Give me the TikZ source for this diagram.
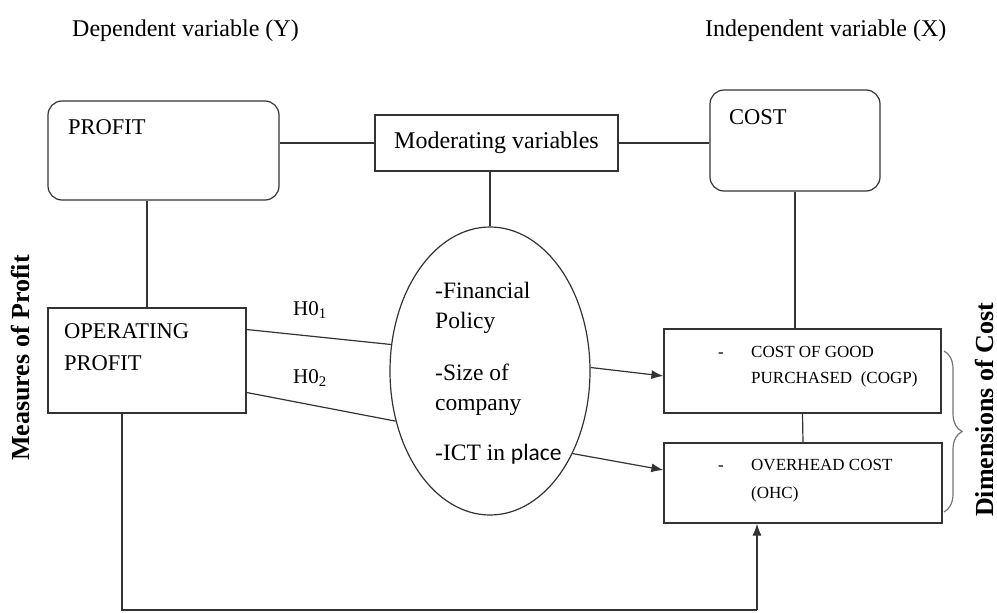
\documentclass[tikz,border=0pt]{standalone}
\usepackage{fontspec}
\setmainfont{Liberation Serif}
\setsansfont{Carlito}
\usetikzlibrary{shapes.geometric,arrows.meta,decorations.pathreplacing}

\tikzset{
  rbox/.style={draw=black!80, line width=1.2pt, rounded corners=14pt},
  sbox/.style={draw=black!80, line width=1.2pt},
  lbl/.style={inner sep=0pt, anchor=base west, align=left},
  head/.style={font=\fontsize{24}{30}\selectfont},
  big/.style={font=\fontsize{22.5}{30}\selectfont},
  oval/.style={font=\fontsize{23.5}{30}\selectfont},
  small/.style={font=\fontsize{17}{26}\selectfont},
  side/.style={font=\bfseries\fontsize{26}{28}\selectfont, rotate=90, inner sep=0pt},
  link/.style={draw=black!80, line width=1.2pt},
}

\begin{document}
\begin{tikzpicture}[x=1pt,y=-1pt,>={Latex[length=12pt,width=9pt]}]
\useasboundingbox (0,0) rectangle (997,613);

\node (dep) at (72,36) [lbl,head] {Dependent variable (Y)};
\node (indep) at (705,36) [lbl,head] {Independent variable (X)};

\node (profit) at (163.5,150.5) [rbox, minimum width=231pt, minimum height=99pt] {};
\node (cost) at (795,140.5) [rbox, minimum width=170pt, minimum height=101pt] {};
\node (mod) at (496.5,143) [sbox, minimum width=243pt, minimum height=56pt, head] {Moderating variables};
\node (op) at (147,360.5) [sbox, minimum width=198pt, minimum height=105pt] {};
\node (cogp) at (802.5,371) [sbox, minimum width=277pt, minimum height=84pt] {};
\node (ohc) at (803,483) [sbox, minimum width=278pt, minimum height=80pt] {};
\node (ell) at (490,371) [ellipse, sbox, minimum width=200pt, minimum height=288pt] {};

\node (profittxt) at (68,134) [lbl,big] {PROFIT};
\node (costtxt) at (729,124) [lbl,big] {COST};
\node (optxt) at (64,370) [lbl,big] {OPERATING\\[2pt]PROFIT};
\node (elltxt) at (435,460) [lbl,oval] {-Financial\\Policy\\[22pt]-Size of\\company\\[20pt]-ICT in {\sffamily place}};
\node (dash1) at (718,357) [lbl,small] {-};
\node (cogptxt) at (751,383) [lbl,small] {COST OF GOOD\\PURCHASED~~(COGP)};
\node (dash2) at (718,470) [lbl,small] {-};
\node (ohctxt) at (751,498) [lbl,small] {OVERHEAD COST\\[2pt](OHC)};
\node (h1) at (293,315) [lbl,font=\fontsize{21}{24}\selectfont] {H0\textsubscript{1}};
\node (h2) at (293,383) [lbl,font=\fontsize{21}{24}\selectfont] {H0\textsubscript{2}};

\node (meas) at (21,358) [side] {Measures of Profit};
\node (dims) at (984,410) [side] {Dimensions of Cost};

\draw [link] (mod.west) -- (mod.west -| profit.east);
\draw [link] (mod.east) -- (mod.east -| cost.west);
\draw [link] (op.north) -- (op.north |- profit.south);
\draw [link] (ell.north) -- (ell.north |- mod.south);
\draw [link] (cost.south) -- (cost.south |- cogp.north);
\draw [link] (cogp.south) -- (ohc.north);
\draw [link] ([yshift=31pt]op.east) -- (ell.165);
\draw [link] ([yshift=-32pt]op.east) -- (ell.208);
\draw [link,->] (ell.2) -- ([yshift=-5pt]cogp.west);
\draw [link,->] (ell.-45) -- ([yshift=13pt]ohc.west);
\coordinate (c1) at (122,610);
\coordinate (c2) at (757,610);
\draw [link] (op.south -| c1) -- (c1) -- (c2);
\draw [link,->] (c2) -- (c2 |- ohc.south);

\draw [draw=black!55, line width=1.2pt, decorate, decoration={brace, amplitude=18pt}] (944,351) -- (944,512);
\end{tikzpicture}
\end{document}
